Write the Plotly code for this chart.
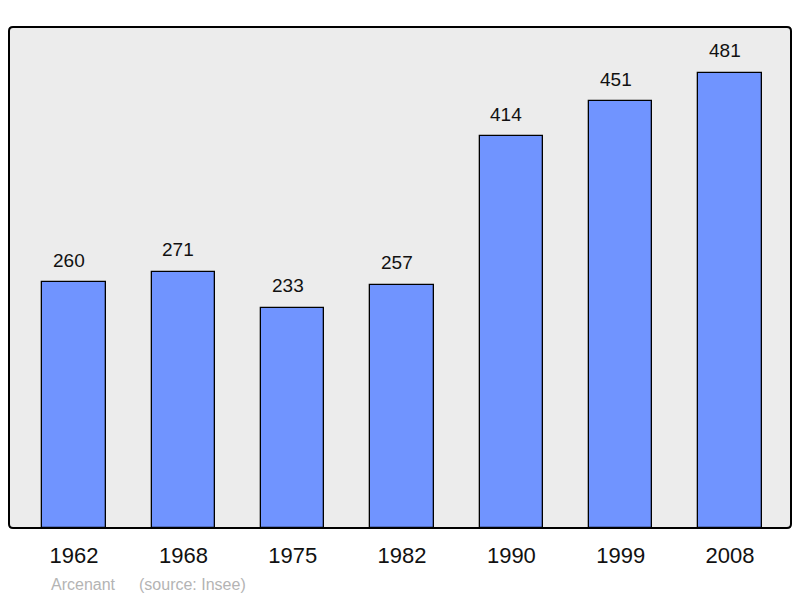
import plotly.graph_objects as go

years = ["1962", "1968", "1975", "1982", "1990", "1999", "2008"]
population = [260, 271, 233, 257, 414, 451, 481]
caption_place = "Arcenant"
caption_source = "(source: Insee)"

W, H = 800, 598
L, R, T, B = 9, 9, 27, 70
pw, ph = W - L - R, H - T - B

xs = list(range(len(years)))

fig = go.Figure()
fig.add_trace(go.Bar(
    x=xs, y=population, width=0.58,
    marker=dict(color="#7094ff", line=dict(color="#000000", width=1.3)),
    hoverinfo="skip",
))

for xi, v in zip(xs, population):
    fig.add_annotation(x=xi, y=v, text=str(v), showarrow=False,
                       yanchor="middle", yshift=22, xshift=-5,
                       font=dict(size=19, color="#111111", family="Liberation Sans, Arial, sans-serif"))

# rounded frame
rx, ry = 4 / pw, 4 / ph
path = (f"M {rx},0 L {1-rx},0 Q 1,0 1,{ry} L 1,{1-ry} Q 1,1 {1-rx},1 "
        f"L {rx},1 Q 0,1 0,{1-ry} L 0,{ry} Q 0,0 {rx},0 Z")
fig.add_shape(type="path", path=path, xref="paper", yref="paper",
              fillcolor="#ececec", line=dict(color="#000000", width=2), layer="below")

fig.add_annotation(x=(49 - L) / pw, y=-(584 - 528) / ph, xref="paper", yref="paper",
                   text=caption_place, showarrow=False, xanchor="left", yanchor="middle",
                   font=dict(size=16, color="#b4b4b4", family="Liberation Sans, Arial, sans-serif"))
fig.add_annotation(x=(137 - L) / pw, y=-(584 - 528) / ph, xref="paper", yref="paper",
                   text=caption_source, showarrow=False, xanchor="left", yanchor="middle",
                   font=dict(size=16, color="#b4b4b4", family="Liberation Sans, Arial, sans-serif"))

fig.update_layout(
    width=W, height=H,
    margin=dict(l=L, r=R, t=T, b=B, pad=0),
    paper_bgcolor="#ffffff", plot_bgcolor="rgba(0,0,0,0)",
    showlegend=False,
    font=dict(family="Liberation Sans, Arial, sans-serif", color="#111111"),
    xaxis=dict(range=[-0.595, 6.5575], tickmode="array", tickvals=xs, ticktext=years,
               showgrid=False, zeroline=False, showline=False, ticks="",
               tickfont=dict(size=22, color="#111111"), ticklabelstandoff=12,
               fixedrange=True),
    yaxis=dict(range=[0, 529.6], showgrid=False, zeroline=False, showline=False,
               showticklabels=False, ticks="", fixedrange=True),
    bargap=0,
)

fig.write_html("out.html", config={"displayModeBar": False},
               post_script="document.body.style.margin='0';document.body.style.overflow='hidden';")
